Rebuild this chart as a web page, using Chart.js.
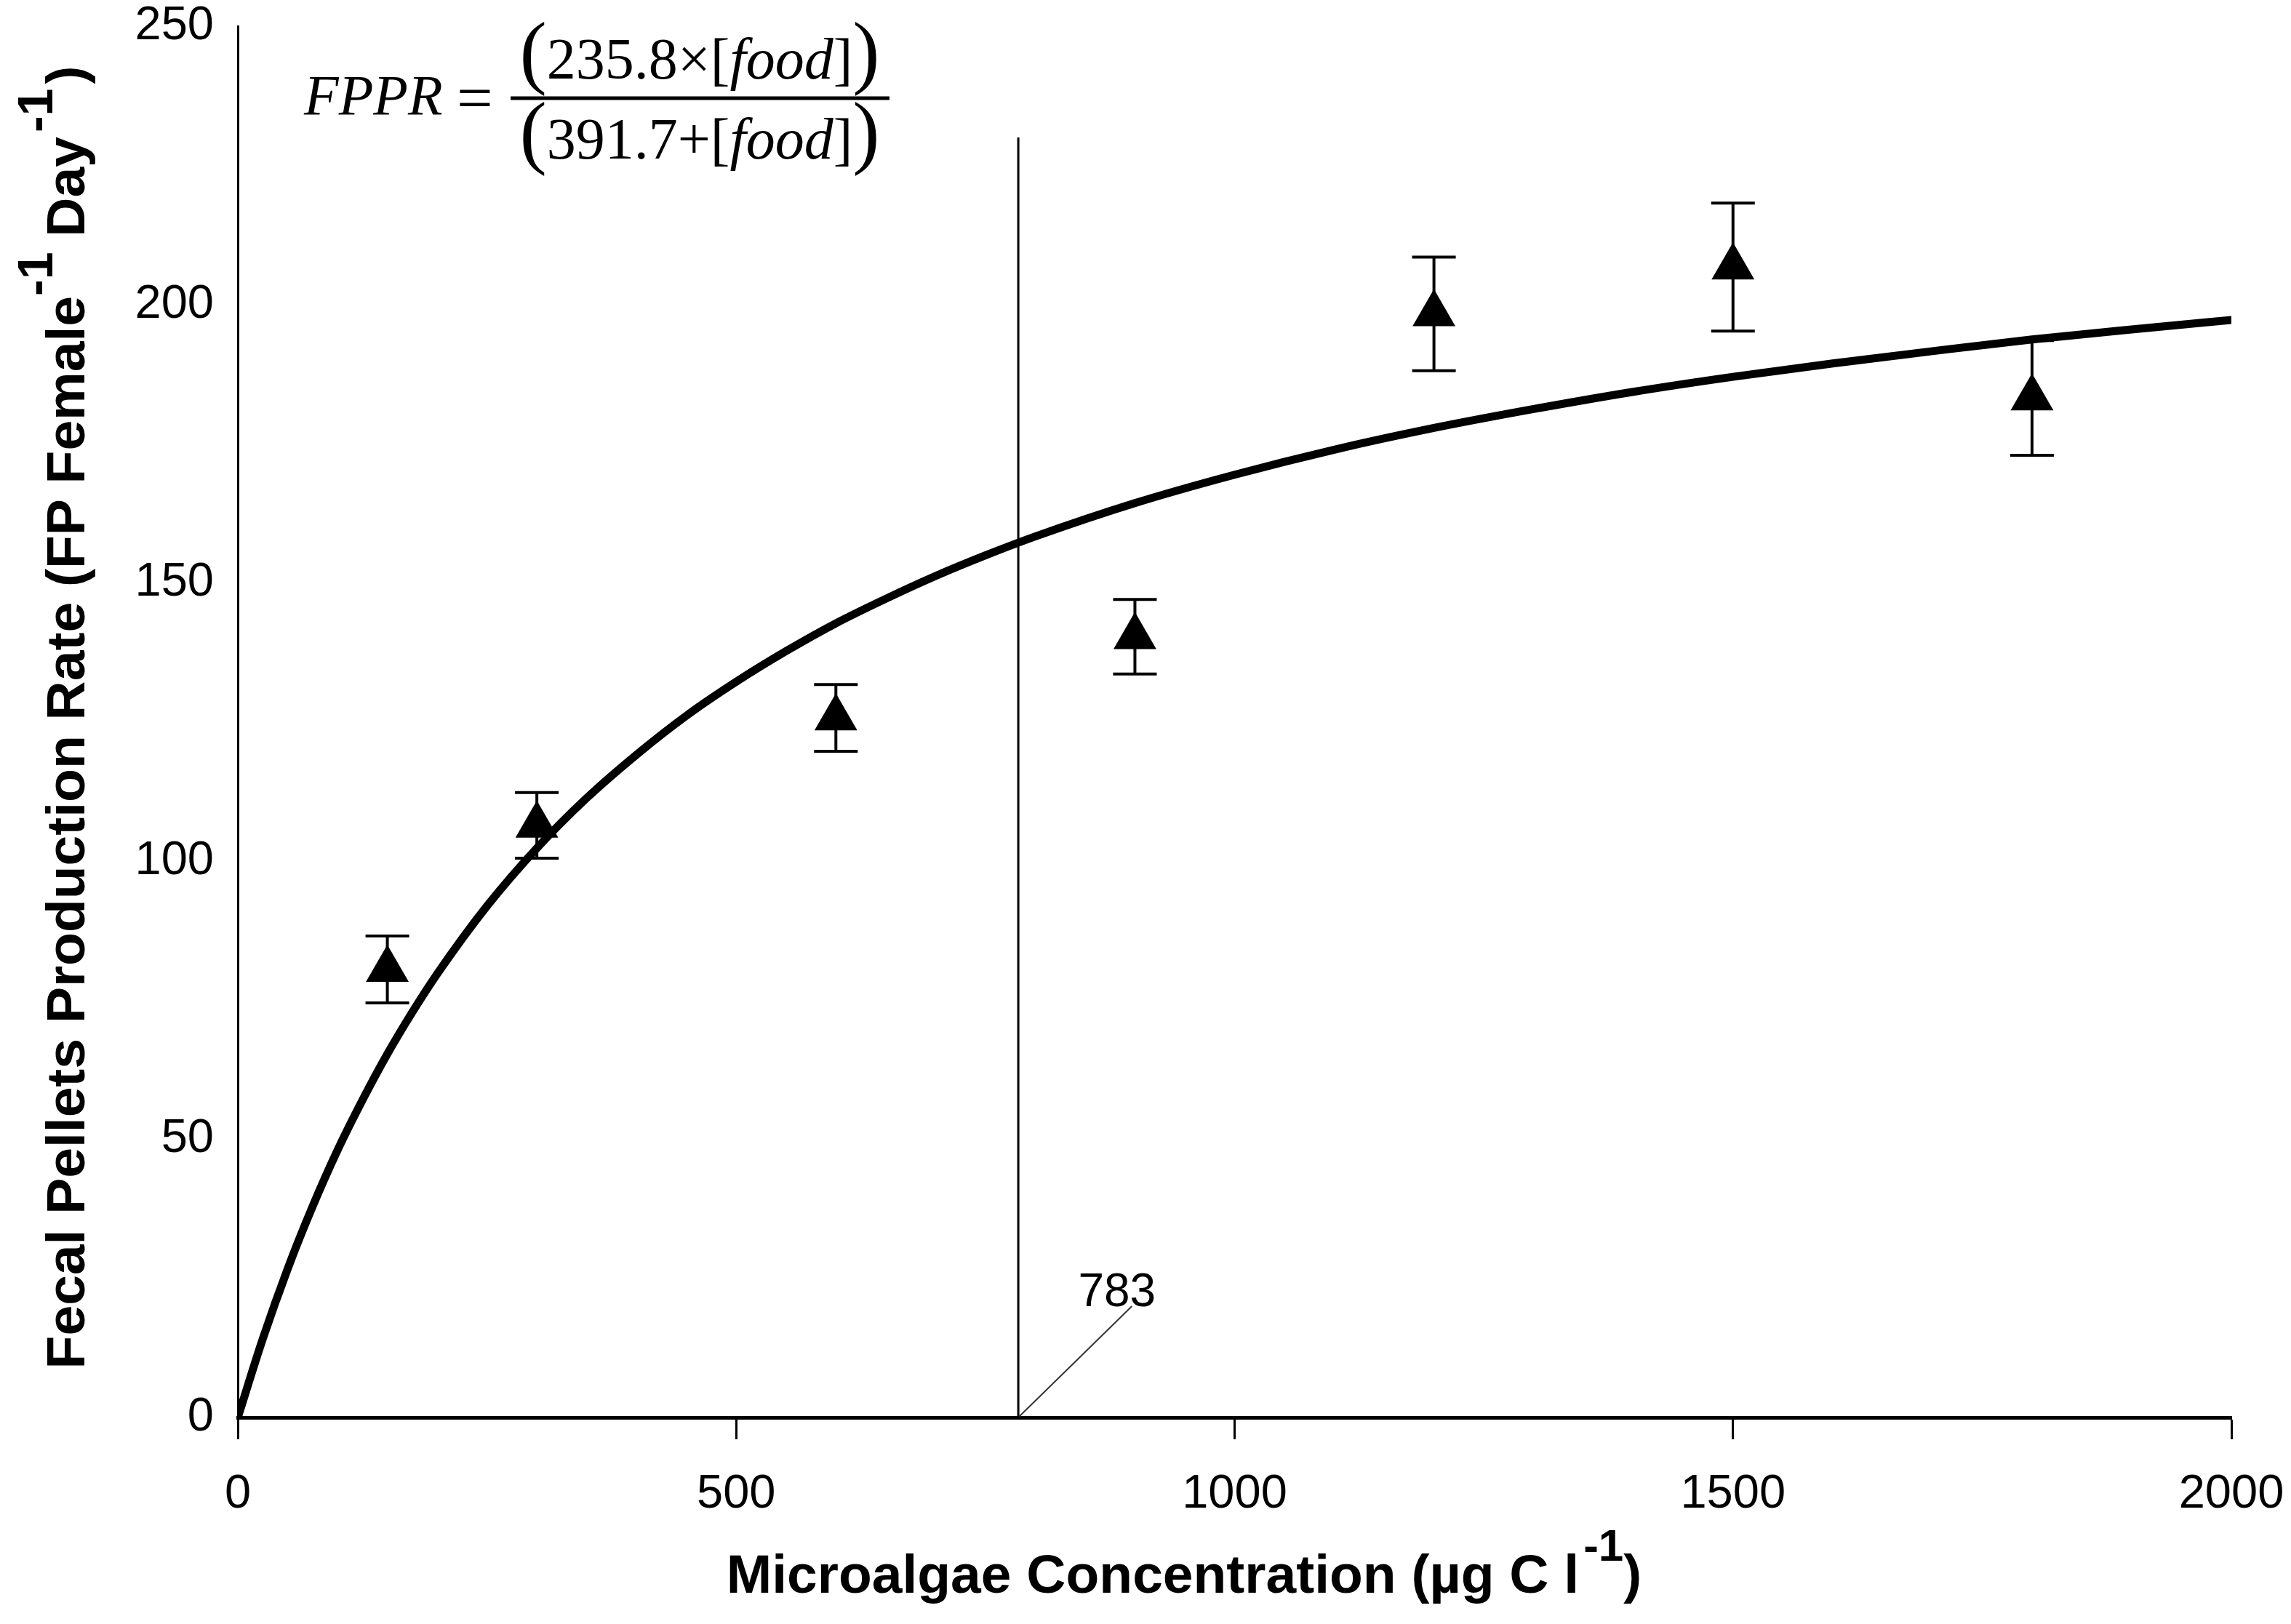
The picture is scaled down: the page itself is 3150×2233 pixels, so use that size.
<!DOCTYPE html>
<html>
<head>
<meta charset="utf-8">
<script src="https://cdn.jsdelivr.net/npm/chart.js@4.4.1/dist/chart.umd.min.js"></script>
<style>
  html, body { margin: 0; padding: 0; background: #fff; }
  canvas { display: block; }
</style>
</head>
<body>
<canvas id="grafico" width="3150" height="2233"></canvas>
<script>
// food levels (µg C l-1) and fecal pellet production
const foodLevels = [150, 300, 600, 900, 1200, 1500, 1800];
const fppMean = [80.5, 106.4, 125.7, 140.3, 198.3, 206.7, 183.2];
const fppError = [6.0, 5.9, 6.0, 6.7, 10.2, 11.5, 10.3];

// fitted curve as traced on the figure
const fitX = [0, 25, 50, 75, 100, 125, 150, 175, 200, 250, 300, 350, 400, 450, 500, 550, 600, 650, 700, 750, 800,
  900, 1000, 1100, 1200, 1300, 1400, 1500, 1600, 1700, 1800, 1900, 2000];
const fitY = [0, 14.1, 26.7, 37.9, 48.0, 57.0, 65.3, 72.8, 79.7, 91.9, 102.3, 111.3, 119.1, 126.1, 132.2, 137.7, 142.7, 147.1, 151.2, 154.9, 158.3,
  164.3, 169.4, 173.9, 177.8, 181.2, 184.3, 187.0, 189.4, 191.6, 193.7, 195.5, 197.2];

const xTicks = [0, 500, 1000, 1500, 2000];
const yTicks = [0, 50, 100, 150, 200, 250];

// half saturation marker
const thresholdX = 783;
const thresholdTop = 230;
const thresholdLabel = "783";
const labelAt = { x: 882, y: 20 };
const leaderEnd = { x: 897, y: 20 };

const SANS = '"Liberation Sans", Arial, sans-serif';
const SERIF = '"Liberation Serif", "Times New Roman", serif';

function drawRich(ctx, segs, x, y, align) {
  let total = 0;
  segs.forEach(s => { ctx.font = s.font; s.w = ctx.measureText(s.text).width + (s.gap || 0); total += s.w; });
  let cx = align === "center" ? x - total / 2 : x;
  ctx.textAlign = "left";
  ctx.textBaseline = "alphabetic";
  segs.forEach(s => {
    ctx.font = s.font;
    ctx.fillText(s.text, cx, y + (s.dy || 0));
    cx += s.w;
  });
}

function noPadding(s) {
  s.paddingTop = 0; s.paddingBottom = 0; s.paddingLeft = 0; s.paddingRight = 0;
}

const extras = {
  id: "extras",
  afterDatasetsDraw(chart) {
    const ctx = chart.ctx;
    const xs = chart.scales.x, ys = chart.scales.y;
    ctx.save();
    ctx.strokeStyle = "#000";
    ctx.fillStyle = "#000";

    // error bars
    ctx.lineWidth = 4;
    foodLevels.forEach((f, i) => {
      const px = xs.getPixelForValue(f);
      const top = ys.getPixelForValue(fppMean[i] + fppError[i]);
      const bot = ys.getPixelForValue(fppMean[i] - fppError[i]);
      ctx.beginPath();
      ctx.moveTo(px, top); ctx.lineTo(px, bot);
      ctx.moveTo(px - 30, top); ctx.lineTo(px + 30, top);
      ctx.moveTo(px - 30, bot); ctx.lineTo(px + 30, bot);
      ctx.stroke();
    });

    // 783 label
    ctx.font = "64px " + SANS;
    ctx.textAlign = "center";
    ctx.textBaseline = "alphabetic";
    ctx.fillText(thresholdLabel, xs.getPixelForValue(labelAt.x), ys.getPixelForValue(labelAt.y));
    ctx.restore();
  },
  afterDraw(chart) {
    const ctx = chart.ctx;
    const area = chart.chartArea;
    ctx.save();
    ctx.fillStyle = "#000";
    const boldX = "bold 75px " + SANS;
    const supX = "bold 62px " + SANS;
    const boldY = "bold 75px " + SANS;
    const supY = "bold 68px " + SANS;

    // x axis title
    drawRich(ctx, [
      { text: "Microalgae Concentration (µg C l", font: boldX, gap: 6 },
      { text: "-1", font: supX, dy: -44 },
      { text: ")", font: boldX }
    ], 1628, 2190, "center");

    // y axis title
    ctx.save();
    ctx.translate(116, (area.top + area.bottom) / 2 - 6);
    ctx.rotate(-Math.PI / 2);
    drawRich(ctx, [
      { text: "Fecal Pellets Production Rate (FP Female", font: boldY },
      { text: "-1", font: supY, dy: -44 },
      { text: " Day", font: boldY, gap: 6 },
      { text: "-1", font: supY, dy: -44, gap: 6 },
      { text: ")", font: boldY }
    ], 0, 0, "center");
    ctx.restore();

    // equation
    const ital = "italic 80px " + SERIF;
    const num = "80px " + SERIF;
    const par = "112px " + SERIF;
    drawRich(ctx, [{ text: "FPPR", font: "italic 78px " + SERIF }], 418, 157, "left");
    drawRich(ctx, [{ text: "=", font: "88px " + SERIF }], 628, 164, "left");
    drawRich(ctx, [
      { text: "(", font: par },
      { text: "235.8×[", font: num },
      { text: "food", font: ital },
      { text: "]", font: num },
      { text: ")", font: par }
    ], 962, 108, "center");
    drawRich(ctx, [
      { text: "(", font: par },
      { text: "391.7+[", font: num },
      { text: "food", font: ital },
      { text: "]", font: num },
      { text: ")", font: par }
    ], 962, 218, "center");
    ctx.strokeStyle = "#000";
    ctx.lineWidth = 5;
    ctx.beginPath();
    ctx.moveTo(702, 135); ctx.lineTo(1223, 135);
    ctx.stroke();
    ctx.restore();
  }
};

const ctx = document.getElementById("grafico");
new Chart(ctx, {
  type: "scatter",
  data: {
    datasets: [
      {
        type: "line",
        label: "fit",
        data: fitX.map((x, i) => ({ x: x, y: fitY[i] })),
        borderColor: "#000",
        borderWidth: 11,
        borderCapStyle: "round",
        borderJoinStyle: "round",
        pointRadius: 0,
        cubicInterpolationMode: "monotone",
        fill: false
      },
      {
        type: "line",
        label: "threshold",
        data: [{ x: thresholdX, y: 0 }, { x: thresholdX, y: thresholdTop }],
        borderColor: "#000",
        borderWidth: 3,
        pointRadius: 0
      },
      {
        type: "line",
        label: "leader",
        data: [{ x: thresholdX, y: 0 }, leaderEnd],
        borderColor: "#333",
        borderWidth: 2,
        pointRadius: 0
      },
      {
        label: "FPPR",
        data: foodLevels.map((x, i) => ({ x: x, y: fppMean[i] })),
        pointStyle: "triangle",
        pointRadius: 34,
        pointBackgroundColor: "#000",
        pointBorderWidth: 0,
        showLine: false
      }
    ]
  },
  options: {
    responsive: false,
    devicePixelRatio: 1,
    animation: false,
    layout: { padding: { left: 0, right: 82, top: 36, bottom: 0 } },
    plugins: { legend: { display: false }, tooltip: { enabled: false } },
    scales: {
      x: {
        type: "linear",
        min: 0,
        max: 2000,
        afterBuildTicks: s => { s.ticks = xTicks.map(v => ({ value: v })); },
        afterFit: s => { s.height = 284; noPadding(s); },
        grid: { drawOnChartArea: false, drawTicks: true, tickLength: 30, tickWidth: 3, tickColor: "#000" },
        border: { display: true, color: "#000", width: 5 },
        ticks: { color: "#000", padding: 40, maxRotation: 0, callback: v => String(v), font: { family: SANS, size: 65, lineHeight: 1.1 } }
      },
      y: {
        type: "linear",
        min: 0,
        max: 250,
        afterBuildTicks: s => { s.ticks = yTicks.map(v => ({ value: v })); },
        afterFit: s => { s.width = 327; noPadding(s); },
        grid: { display: false, drawTicks: false },
        border: { display: true, color: "#000", width: 3 },
        ticks: { color: "#000", padding: 33, callback: v => String(v), font: { family: SANS, size: 65, lineHeight: 1.1 } }
      }
    }
  },
  plugins: [extras]
});
</script>
</body>
</html>
